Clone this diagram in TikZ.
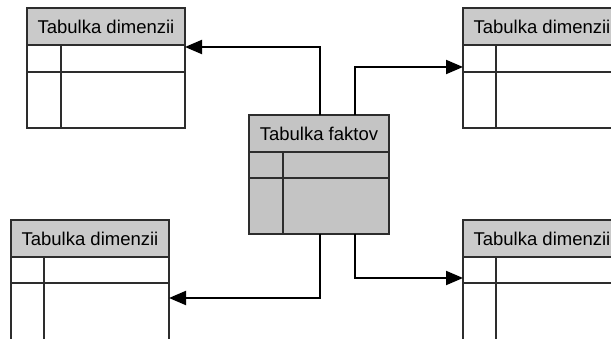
\documentclass[tikz,border=0pt]{standalone}
\usepackage{fontspec}
\setmainfont{Liberation Sans}
\usetikzlibrary{arrows.meta,calc}
\definecolor{hdrgray}{RGB}{202,202,202}
\definecolor{factgray}{RGB}{196,196,196}
\definecolor{linegray}{RGB}{45,45,45}
\begin{document}
\begin{tikzpicture}[x=1pt,y=-1pt,
  grid/.style={draw=linegray, line width=1.7pt},
  hdr/.style={grid, fill=hdrgray, anchor=north west, minimum height=37pt,
    inner sep=0pt, outer sep=0pt, font=\fontsize{18.5}{20}\selectfont},
  link/.style={draw=black, line width=2pt, -{Triangle[length=17pt,width=14pt]}}]
\useasboundingbox (0,0) rectangle (611,339);
\clip (0,0) rectangle (611,339);
\fill[white] (0,0) rectangle (611,339);

% dimension table: header node plus two-column body
% #1 name, #2 left x, #3 top y, #4 divider x, #5 row line y, #6 bottom y
\newcommand\dimtab[6]{%
  \node[hdr, minimum width=158pt] (#1) at (#2,#3) {Tabulka dimenzii};
  \draw[grid] (#2,{#3+37}) rectangle ({#2+158},#6);
  \draw[grid] (#2,#5) -- ({#2+158},#5);
  \draw[grid] (#4,{#3+37}) -- (#4,#6);
}

\dimtab{tl}{27}{8}{61}{72}{128}
\dimtab{tr}{463}{8}{496}{72}{128}
\dimtab{bl}{11}{220}{44}{283}{360}
\dimtab{br}{463}{220}{496}{283}{360}

% fact table
\node[hdr, fill=factgray, minimum width=140pt] (fact) at (249,115) {Tabulka faktov};
\draw[grid, fill=factgray] (249,152) rectangle (389,234);
\draw[grid] (249,178) -- (389,178);
\draw[grid] (283,152) -- (283,234);

% connectors from the fact table to the dimension tables
\coordinate (f1) at ($(fact.north west)+(71,0)$);
\coordinate (f2) at ($(fact.north west)+(106,0)$);
\coordinate (f3) at (320,234);
\coordinate (f4) at (355,234);
\draw[link] (f1) |- ($(tl.south east)+(0,2)$);
\draw[link] (f2) |- ($(tr.south west)+(0,22)$);
\draw[link] (f3) |- ($(bl.south east)+(0,41)$);
\draw[link] (f4) |- ($(br.south west)+(0,21)$);
\end{tikzpicture}
\end{document}
